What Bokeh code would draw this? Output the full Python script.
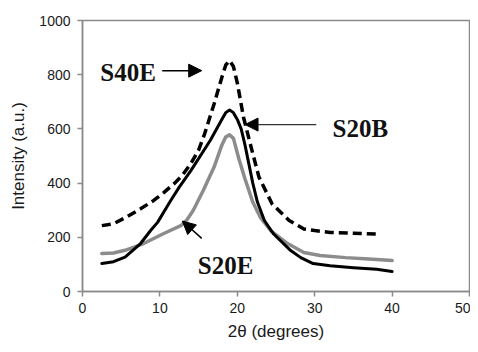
from bokeh.plotting import figure
from bokeh.models import Range1d, Label, Arrow, NormalHead, FixedTicker
from bokeh.embed import file_html
from bokeh.resources import INLINE

# ---- data ----
s40e_x = [2.5, 4.0, 5.5, 7.5, 9.2, 10.5, 11.8, 12.8, 14.0, 15.0, 15.7, 17.0, 18.0, 18.5, 19.0,
          19.5, 20.0, 20.8, 21.9, 22.8, 24.5, 26.7, 28.6, 30.0, 32.0, 35.0, 38.0]
s40e_y = [243, 250, 272, 305, 336, 365, 397, 425, 472, 522, 575, 692, 790, 835, 852,
          830, 770, 643, 520, 422, 323, 262, 231, 225, 218, 215, 212]

s20b_x = [2.5, 4.0, 5.5, 7.5, 8.8, 9.7, 11.4, 12.5, 14.0, 16.5, 18.0, 18.5, 19.0, 19.5,
          20.0, 20.5, 21.0, 21.5, 22.0, 22.6, 23.5, 24.7, 26.9, 28.2, 29.8, 32.0, 35.0, 38.0, 40.0]
s20b_y = [103, 110, 127, 177, 225, 255, 336, 385, 446, 557, 635, 660, 670, 660,
          635, 600, 540, 470, 400, 330, 262, 212, 151, 125, 103, 95, 88, 82, 74]

s20e_x = [2.5, 4.0, 5.5, 7.9, 10.5, 12.7, 13.5, 14.3, 15.6, 17.0, 18.0, 18.5, 19.0, 19.5,
          20.2, 21.0, 22.0, 23.0, 24.3, 26.5, 28.6, 30.7, 34.0, 37.0, 40.0]
s20e_y = [140, 142, 152, 177, 214, 243, 265, 299, 373, 459, 540, 570, 578, 565,
          490, 415, 330, 272, 225, 177, 144, 133, 125, 120, 114]

x_ticks = [0, 10, 20, 30, 40, 50]
y_ticks = [0, 200, 400, 600, 800, 1000]

AXIS_GREY = "#8a8a8a"
SANS = "Liberation Sans"
SERIF = "Liberation Serif"

p = figure(output_backend="svg", toolbar_location=None,
           frame_width=387, frame_height=271,
           min_border_left=82, min_border_right=1, min_border_top=20, min_border_bottom=53,
           x_range=Range1d(0, 50), y_range=Range1d(0, 1000))

p.background_fill_color = "white"
p.border_fill_color = "white"
p.outline_line_color = AXIS_GREY
p.outline_line_width = 1.5
p.grid.visible = False

for ax in (p.xaxis[0], p.yaxis[0]):
    ax.axis_line_color = AXIS_GREY
    ax.axis_line_width = 1.5
    ax.major_tick_line_color = AXIS_GREY
    ax.major_tick_line_width = 1.5
    ax.major_tick_in = 0
    ax.major_tick_out = 5
    ax.minor_tick_line_color = None
    ax.major_label_text_font = SANS
    ax.major_label_text_font_size = "14px"
    ax.major_label_text_color = "#1a1a1a"
    ax.axis_label_text_font = SANS
    ax.axis_label_text_font_size = "17px"
    ax.axis_label_text_font_style = "normal"
    ax.axis_label_text_color = "#1a1a1a"

p.xaxis.ticker = FixedTicker(ticks=x_ticks)
p.yaxis.ticker = FixedTicker(ticks=y_ticks)
p.xaxis.axis_label = "2θ (degrees)"
p.yaxis.axis_label = "Intensity (a.u.)"
p.xaxis.major_label_standoff = 6
p.xaxis.axis_label_standoff = 6
p.yaxis.major_label_standoff = 7
p.yaxis.axis_label_standoff = 8

p.line(s20e_x, s20e_y, line_color="#8c8c8c", line_width=3.5, line_cap="round", line_join="round")
p.line(s20b_x, s20b_y, line_color="black", line_width=3, line_cap="round", line_join="round")
p.line(s40e_x, s40e_y, line_color="black", line_width=3.5, line_dash="9 5", line_join="round")

# labels
lab_style = dict(text_font=SERIF, text_font_style="bold", text_font_size="25px",
                 text_color="#111111", text_baseline="middle")
p.add_layout(Label(x=2.3, y=808, text="S40E", **lab_style))
p.add_layout(Label(x=32.3, y=601, text="S20B", **lab_style))
p.add_layout(Label(x=14.9, y=96, text="S20E", **lab_style))

def head():
    return NormalHead(size=13, fill_color="black", line_color="black")

p.add_layout(Arrow(end=head(), x_start=10.3, y_start=815, x_end=15.4, y_end=815,
                   line_color="black", line_width=1.5))
p.add_layout(Arrow(end=head(), x_start=30.2, y_start=616, x_end=21.0, y_end=616,
                   line_color="#333333", line_width=1.2))
p.add_layout(Arrow(end=head(), x_start=15.4, y_start=196, x_end=12.9, y_end=260,
                   line_color="black", line_width=1.5))

open("out.html", "w").write(file_html(p, INLINE))
